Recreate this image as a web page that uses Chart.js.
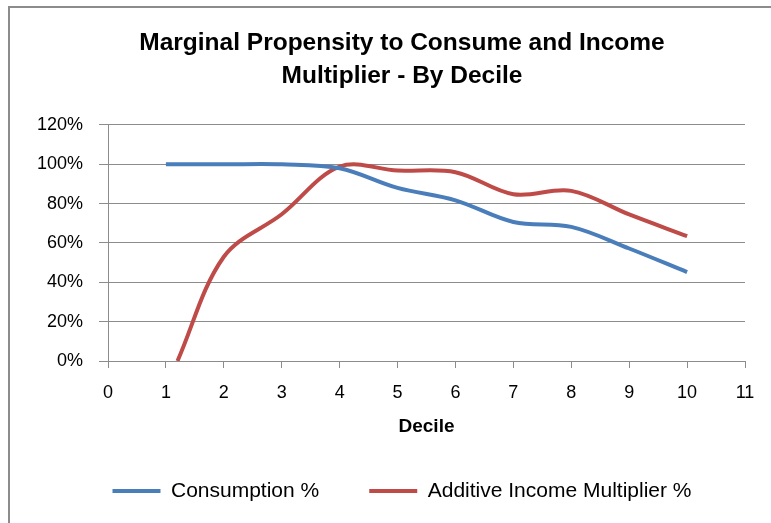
<!DOCTYPE html>
<html>
<head>
<meta charset="utf-8">
<script src="https://cdn.jsdelivr.net/npm/chart.js@4.4.1/dist/chart.umd.min.js"></script>
<style>
html, body { margin: 0; padding: 0; background: #fff; overflow: hidden; }
#frame { position: absolute; left: 8px; top: 6px; width: 782px; height: 560px; border: 2px solid #8c8c8c; }
#wrap { position: absolute; left: 0; top: 0; width: 800px; height: 523px; }
</style>
</head>
<body>
<div id="frame"></div>
<div id="wrap"><canvas id="mpcChart" width="800" height="523"></canvas></div>
<script>
// values
const deciles = [1, 2, 3, 4, 5, 6, 7, 8, 9, 10];
const consumption = [100, 100, 100, 98, 88, 81.7, 70.7, 68.2, 57.2, 45.2];
const multiplierDeciles = [1.2, 2, 3, 4, 5, 6, 7, 8, 9, 10];
const multiplier = [0, 53, 74.6, 98.8, 96.8, 96, 84.8, 86.5, 74.5, 63.5];
const titleLines = ['Marginal Propensity to Consume and Income', 'Multiplier - By Decile'];

const FONT = "'Liberation Sans', Arial, sans-serif";

function toPoints(xs, ys) {
	return xs.map((x, i) => ({ x: x, y: ys[i] }));
}

const ctx = document.getElementById('mpcChart').getContext('2d');
new Chart(ctx, {
	type: 'line',
	data: {
		datasets: [{
			label: 'Consumption %',
			data: toPoints(deciles, consumption),
			borderColor: '#4a7ebb',
			backgroundColor: '#4a7ebb',
			borderWidth: 4,
			pointRadius: 0,
			tension: 0.35,
			clip: 0
		}, {
			label: 'Additive Income Multiplier %',
			data: toPoints(multiplierDeciles, multiplier),
			borderColor: '#be4b48',
			backgroundColor: '#be4b48',
			borderWidth: 4,
			pointRadius: 0,
			tension: 0.35,
			clip: 0
		}]
	},
	options: {
		responsive: false,
		maintainAspectRatio: false,
		animation: false,
		layout: {
			padding: { left: 35, right: 31, top: 0, bottom: 11.5 }
		},
		scales: {
			x: {
				type: 'linear',
				min: 0,
				max: 11,
				ticks: {
					stepSize: 1,
					padding: 14,
					color: '#000',
					font: { family: FONT, size: 18 }
				},
				grid: {
					drawOnChartArea: false,
					tickLength: 7,
					color: '#8c8c8c'
				},
				border: { color: '#8c8c8c' },
				title: {
					display: true,
					text: 'Decile',
					color: '#000',
					font: { family: FONT, size: 19, weight: 'bold' },
					padding: { top: 0, bottom: -8 }
				},
				afterFit: function(scale) {
					scale.height = 69.5;
				}
			},
			y: {
				min: 0,
				max: 120,
				ticks: {
					stepSize: 20,
					padding: 16,
					color: '#000',
					font: { family: FONT, size: 18 },
					callback: function(v) { return v + '%'; }
				},
				grid: {
					color: '#8c8c8c',
					tickLength: 9
				},
				border: { color: '#8c8c8c' },
				afterFit: function(scale) {
					scale.width = 73;
				}
			},
			// empty spacer on the right, keeps title and legend centred like the original
			yRight: {
				position: 'right',
				min: 0,
				max: 120,
				grid: { display: false, drawTicks: false },
				ticks: { display: false },
				border: { display: false },
				afterFit: function(scale) {
					scale.width = 24;
				}
			}
		},
		plugins: {
			title: {
				display: true,
				text: titleLines,
				color: '#000',
				font: { family: FONT, size: 24.5, weight: 'bold', lineHeight: 1.33 },
				padding: { top: 27, bottom: 32.8 }
			},
			legend: {
				position: 'bottom',
				labels: {
					usePointStyle: true,
					pointStyle: 'line',
					pointStyleWidth: 48,
					padding: 50,
					color: '#000',
					font: { family: FONT, size: 21 }
				}
			},
			tooltip: { enabled: false }
		}
	}
});
</script>
</body>
</html>
